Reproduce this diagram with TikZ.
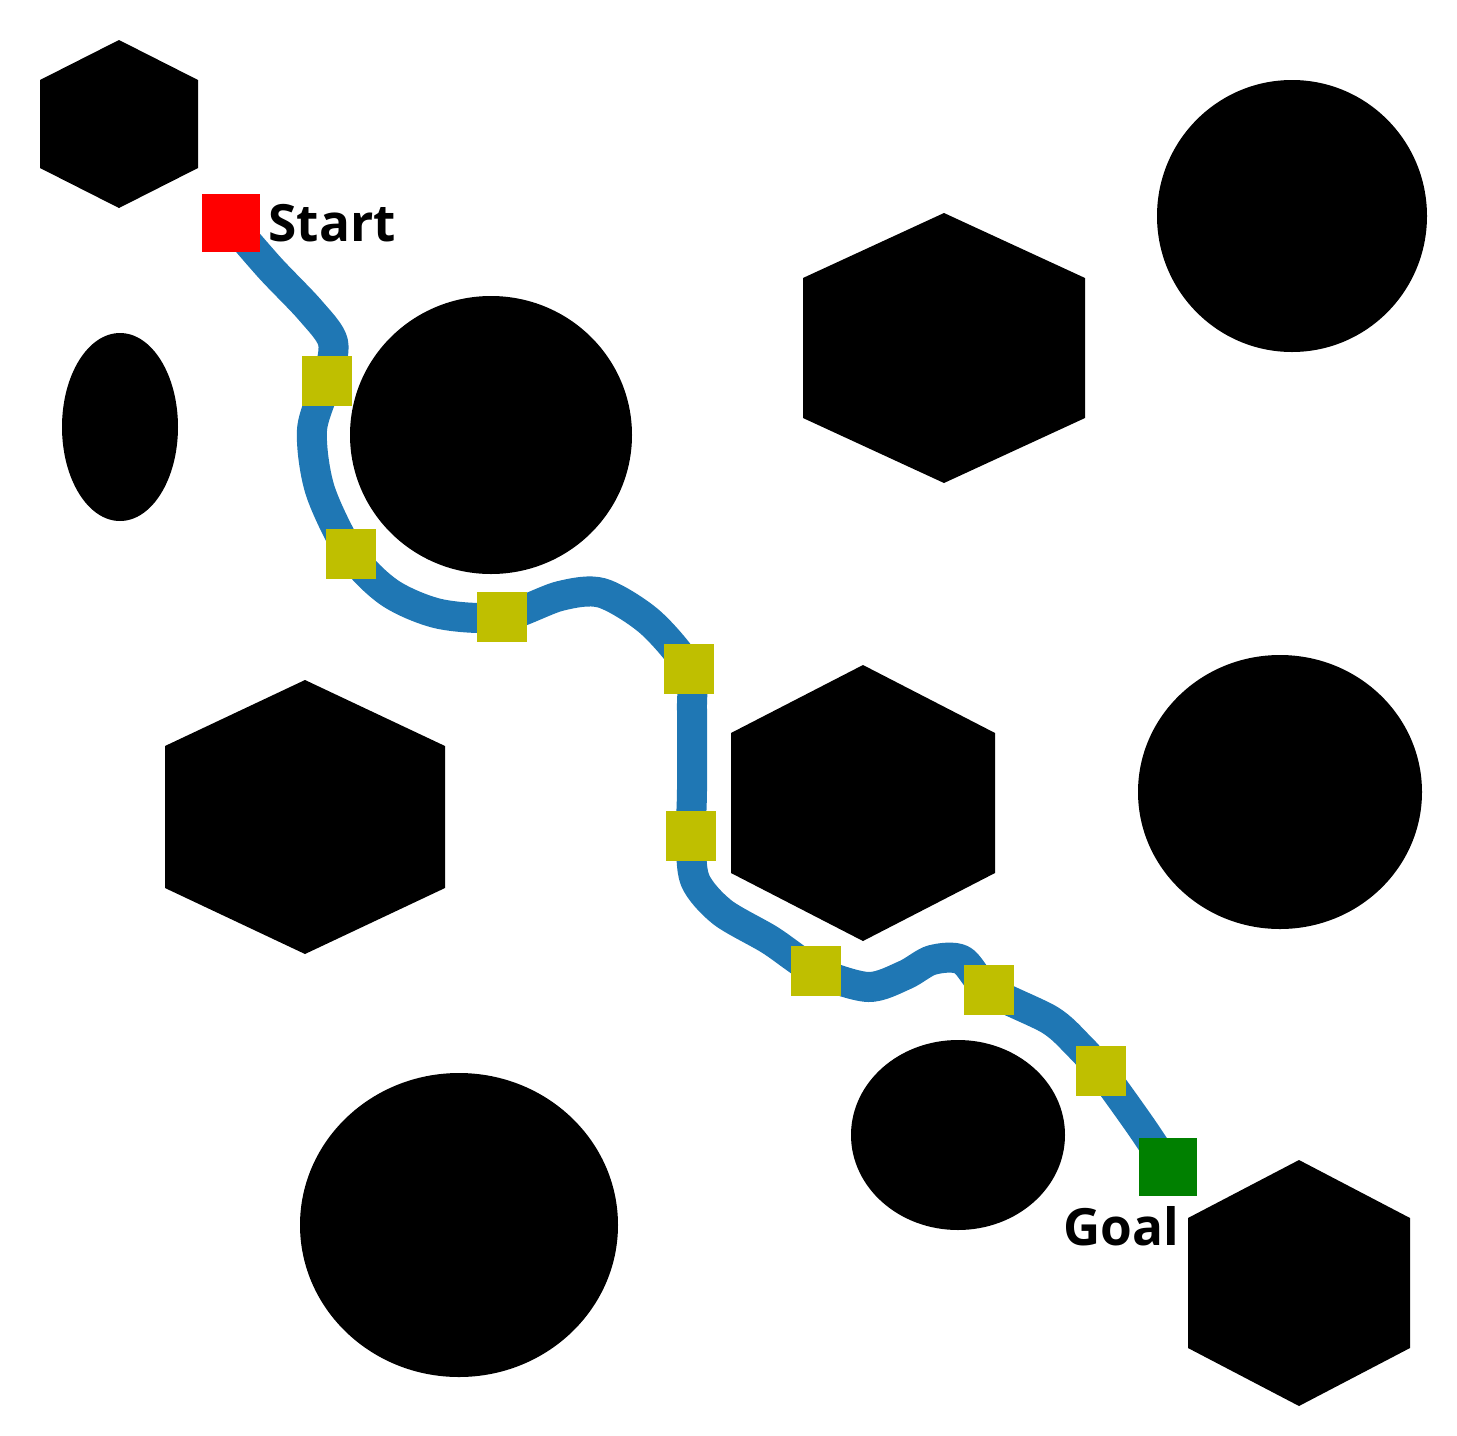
\documentclass[tikz,border=0pt]{standalone}
\usepackage{fontspec}
\setmainfont{Open Sans}
\usetikzlibrary{backgrounds,positioning}
\definecolor{routeblue}{RGB}{31,119,180}
\definecolor{wpyellow}{RGB}{191,191,0}
\definecolor{goalgreen}{RGB}{0,128,0}
\tikzstyle{obst}=[fill=black]
\tikzstyle{wp}=[rectangle,fill=wpyellow,minimum size=5mm,inner sep=0pt]
\tikzstyle{endpt}=[rectangle,minimum size=5.8mm,inner sep=0pt]
\tikzstyle{route}=[draw=routeblue,line width=3mm,line join=round,line cap=round]
\tikzstyle{lbl}=[font=\fontsize{14.6}{18}\selectfont\bfseries,inner sep=0pt]

\begin{document}
\begin{tikzpicture}[x=0.01cm,y=-0.01cm]
	\useasboundingbox (0,0) rectangle (1457,1436);

	% obstacles
	\foreach \cx/\cy/\rx/\ry in {120/427/58/94, 491/435/141/139, 1292/216/135/136,
	                             1280/792/142/137, 459/1225/159/152, 958/1135/107/95}
		\fill[obst] (\cx,\cy) ellipse [x radius=\rx, y radius=\ry];
	\foreach \cx/\cy/\hw/\hh/\sh in {119/124/79/84/44, 944/348/141/135/70, 305/817/140/137/71,
	                                 863/803/132/138/70, 1299/1283/111/123/65}
		\fill[obst] (\cx,\cy-\hh) -- (\cx+\hw,\cy-\sh) -- (\cx+\hw,\cy+\sh) -- (\cx,\cy+\hh)
		            -- (\cx-\hw,\cy+\sh) -- (\cx-\hw,\cy-\sh) -- cycle;

	% start, goal and waypoints
	\node[endpt,fill=red] (start) at (231,223) {};
	\node[endpt,fill=goalgreen] (goal) at (1168,1167) {};
	\node[lbl,right=0.7mm of start] (starttxt) {Start};
	\node[lbl,anchor=north east] (goaltxt) at ([xshift=-1.8mm,yshift=-0.9mm]goal.south east) {Goal};
	\foreach \i/\x/\y in {1/327/381, 2/351/554, 3/502/617, 4/689/669,
	                      5/691/836, 6/816/971, 7/989/990, 8/1101/1071}
		\node[wp] (w\i) at (\x,\y) {};

	\begin{pgfonlayer}{background}
	\draw[route] plot[smooth,tension=0.5] coordinates {(start) (270,268) (310,310) (333,342) (w1)
		(312,430) (320,490) (w2) (390,593) (440,614) (w3) (560,596) (602,593) (650,622) (w4)
		(692,710) (692,790) (w5) (695,880) (722,912) (770,940) (w6) (868,987) (905,975)
		(932,960) (962,960) (w7) (1050,1020) (1078,1045) (w8) (1140,1125) (goal)};
	\end{pgfonlayer}
\end{tikzpicture}
\end{document}
